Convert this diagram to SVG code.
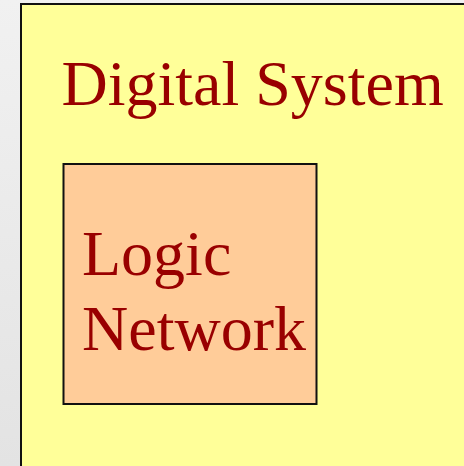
<svg xmlns="http://www.w3.org/2000/svg" width="464" height="466" viewBox="0 0 464 466">
  <defs>
    <linearGradient id="bg" x1="0" y1="0" x2="0" y2="1">
      <stop offset="0" stop-color="#f1f1f1"/>
      <stop offset="1" stop-color="#e3e3e3"/>
    </linearGradient>
    <style>
      .lbl { font-family: "Liberation Serif", "Times New Roman", serif; font-size: 64px; fill: #990000; }
      .box { stroke: #111; stroke-width: 2; }
    </style>
  </defs>
  <rect x="0" y="0" width="464" height="466" fill="url(#bg)"/>
  <g id="digital-system">
    <rect class="box" x="21" y="4" width="460" height="480" fill="#ffff99"/>
    <text class="lbl" x="61.5" y="105">Digital System</text>
  </g>
  <g id="logic-network">
    <rect class="box" x="63.5" y="164" width="253" height="240" fill="#ffcc99"/>
    <text class="lbl" x="82" y="275">Logic</text>
    <text class="lbl" x="82" y="350">Network</text>
  </g>
</svg>
